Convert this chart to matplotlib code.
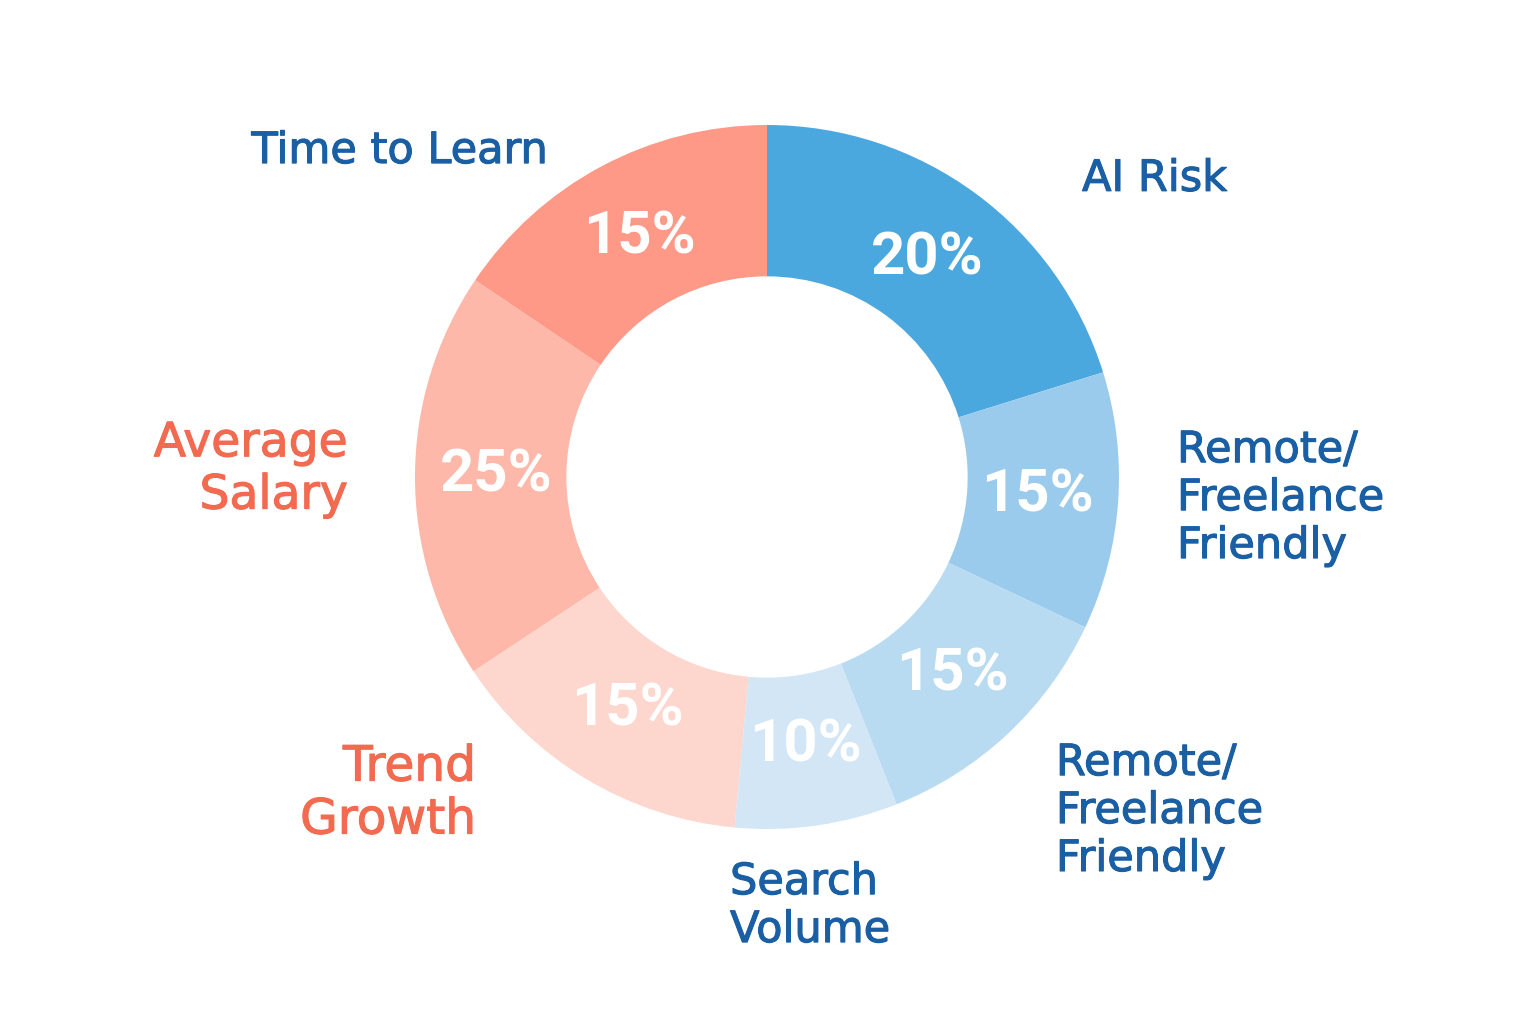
import numpy as np
import matplotlib.pyplot as plt
import matplotlib.patheffects as pe

# slices clockwise from 12 o'clock
labels = ["AI Risk", "Remote/\nFreelance\nFriendly", "Remote/\nFreelance\nFriendly",
          "Search\nVolume", "Trend\nGrowth", "Average\nSalary", "Time to Learn"]
pct_text = ["20%", "15%", "15%", "10%", "15%", "25%", "15%"]
# drawn wedge sizes (degrees)
wedge_deg = [72.7, 42.6, 43.1, 26.9, 51.2, 67.5, 56.0]
colors = ["#4BA8DE", "#9BCBEC", "#B9DBF1", "#D2E6F5", "#FDD6CD", "#FDB8A9", "#FE9987"]
label_colors = ["#1A5FA4"] * 4 + ["#F26A50"] * 2 + ["#1A5FA4"]

# label anchors in pie units (radius = 1): x, y, ha, fontsize, linespacing
label_pos = [(0.895, 0.847, "left", 31, 1.18), (1.165, -0.06, "left", 31, 1.18),
             (0.821, -0.949, "left", 31, 1.18), (-0.105, -1.219, "left", 31, 1.18),
             (-0.827, -0.898, "right", 35, 1.13), (-1.19, 0.02, "right", 34, 1.21),
             (-0.625, 0.926, "right", 31, 1.18)]

fig = plt.figure(figsize=(15.36, 10.24), dpi=100)
ax = fig.add_axes([0, 0, 1, 1])

wedges, _ = ax.pie(wedge_deg, colors=colors, startangle=90, counterclock=False,
                   radius=1.0, wedgeprops=dict(width=0.43, edgecolor="none"))

# percentage labels at wedge middles
for w, t in zip(wedges, pct_text):
    mid = np.deg2rad((w.theta1 + w.theta2) / 2)
    r = 0.77
    ax.text(r * np.cos(mid), r * np.sin(mid), t, ha="center", va="center",
            color="white", fontsize=43, fontweight="bold", family="Roboto")

for (x, y, ha, fs, ls), lab, c in zip(label_pos, labels, label_colors):
    ax.text(x, y, lab, ha=ha, va="center", color=c, fontsize=fs,
            family="DejaVu Sans", linespacing=ls,
            path_effects=[pe.withStroke(linewidth=0.8, foreground=c)])

ax.set_xlim(-767 / 352, (1536 - 767) / 352)
ax.set_ylim((477 - 1024) / 352, 477 / 352)
ax.set_aspect("auto")
ax.axis("off")

fig.savefig("out.png", dpi=100, facecolor="white")
